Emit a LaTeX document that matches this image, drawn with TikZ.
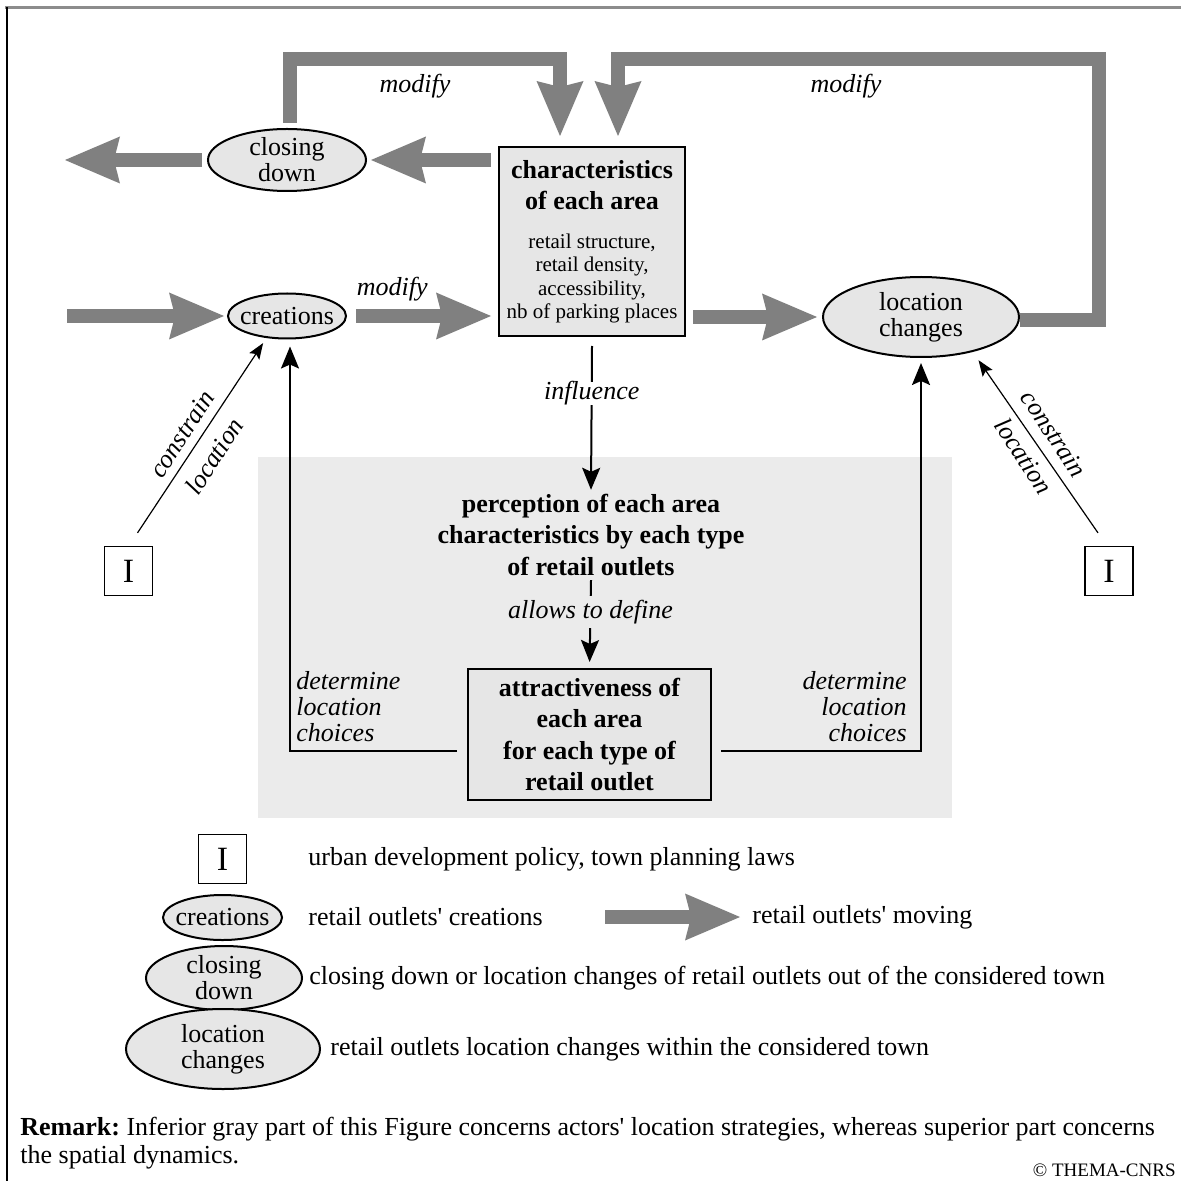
\documentclass[tikz,border=0pt]{standalone}
\usepackage{fontspec}
\setmainfont{Liberation Serif}
\usetikzlibrary{arrows.meta,shapes.geometric,calc,positioning}
\definecolor{arrowgray}{HTML}{808080}
\definecolor{fillgray}{HTML}{E6E6E6}
\definecolor{areagray}{HTML}{EBEBEB}
\definecolor{framegray}{HTML}{8C8C8C}
\frenchspacing

\begin{document}
\begin{tikzpicture}[
     x = 0.5pt,
     y = -0.5pt,
     font = \fontsize{13}{15}\selectfont,
     >= {Stealth[length=11pt,width=9pt,inset=2pt]}
    ]
    \tikzstyle{bigarrow}=[draw=arrowgray, line width=7pt, -{Stealth[length=27.5pt,width=23.5pt,inset=3pt,line width=0pt]}]
    \tikzstyle{thinarrow}=[draw, line width=1pt, ->]
    \tikzstyle{slimarrow}=[draw, line width=0.6pt, -{Stealth[length=8pt,width=6pt,inset=1.5pt]}]
    \tikzstyle{event}=[ellipse, draw, line width=1pt, fill=fillgray, inner xsep=-6pt, inner ysep=-8pt, align=center, font=\fontsize{13}{13}\selectfont]
    \tikzstyle{block}=[draw, line width=1pt, fill=fillgray, align=center, font=\bfseries\fontsize{13}{15.6}\selectfont]
    \tikzstyle{policy}=[draw, line width=0.6pt, fill=white, minimum width=24pt, minimum height=24.5pt, inner sep=0pt, font=\fontsize{17}{17}\selectfont]
    \tikzstyle{verb}=[font=\itshape\fontsize{13}{13}\selectfont, inner sep=2pt]
    \tikzstyle{keytext}=[anchor=west, inner sep=0pt]
    \newcommand{\detail}[1]{{\mdseries\fontsize{10.5}{11.5}\selectfont #1}}

    \useasboundingbox (0,0) rectangle (1181,1181);
    \draw[framegray, line width=1.5pt] (5,7.5) -- (1181,7.5);
    \draw[line width=1pt] (7,7) -- (7,1181);
    \fill[areagray] (258,457) rectangle (952,818);

    \node[block, minimum width=93pt, minimum height=94.5pt, inner sep=1pt] (char) at (592,241.5)
      {characteristics\\of each area\\[4pt]\detail{retail structure,}\\[-4pt]\detail{retail density,}\\[-4pt]\detail{accessibility,}\\[-4pt]\detail{nb of parking places}};
    \node[event, minimum width=79pt, minimum height=31pt] (closing) at (287,160) {closing\\down};
    \node[event, minimum width=59pt, minimum height=22.5pt] (cre) at (287,316) {creations};
    \node[event, minimum width=98pt, minimum height=40pt] (loc) at (921,317) {location\\changes};
    \node[align=center, font=\bfseries\fontsize{13}{15.75}\selectfont, inner sep=2pt] (percep) at (591,535)
      {perception of each area\\characteristics by each type\\of retail outlets};
    \node[block, minimum width=121.5pt, minimum height=65.5pt] (attr) at (589.5,734.5)
      {attractiveness of\\each area\\for each type of\\retail outlet};
    \node[policy] (Ileft) at (128.5,571) {I};
    \node[policy] (Iright) at (1109,571) {I};

    \coordinate (inL) at (67,316);
    \coordinate (outL) at (65,160);
    \draw[bigarrow, shorten >=1.5pt] (inL) -- (cre.west);
    \draw[bigarrow, shorten <=4.5pt, shorten >=3.5pt] (cre.east) -- node[verb, pos=.3, above=2pt] (modC) {modify} (cre.east -| char.west);
    \draw[bigarrow, shorten <=3.5pt, shorten >=2.5pt] (char.east |- loc.west) -- (loc.west);
    \draw[bigarrow, shorten <=3.5pt, shorten >=2pt] (char.west |- closing.east) -- (closing.east);
    \draw[bigarrow, shorten <=2.5pt] (closing.west) -- (outL);
    \draw[bigarrow, shorten <=2.5pt, shorten >=5pt] ($(closing.north)+(3,0)$) |- ($(char.north)+(-32,-87)$) -- ($(char.north)+(-32,0)$);
    \draw[bigarrow, shorten >=5pt] ($(loc.east)+(0,3)$) -- ++(79,0) |- ($(char.north)+(26,-87)$) -- ($(char.north)+(26,0)$);
    \node[verb] (modA) at (415,86) {modify};
    \node[verb] (modB) at (846,86) {modify};

    \draw[thinarrow] ($(char.south)+(0,9)$) -- node[verb, pos=.33, fill=white, inner ysep=0pt] (infl) {influence} (percep.north);
    \draw[thinarrow, shorten >=3pt] (percep.south) -- node[verb, pos=.36, fill=areagray] (allow) {allows to define} (attr.north);

    \draw[thinarrow, shorten >=3.5pt] ($(attr.west)+(-10,16.5)$) -| ($(cre.south)+(3,0)$);
    \node[verb, anchor=west, align=left] (detL) at (292,707) {determine\\location\\choices};
    \draw[thinarrow, shorten >=2.5pt] ($(attr.east)+(9,16.5)$) -| (loc.south);
    \node[verb, anchor=east, align=right] (detR) at (911,707) {determine\\location\\choices};

    \draw[slimarrow, shorten >=3pt] ($(Ileft.north)+(9,-13)$) -- (cre.227);
    \draw[slimarrow, shorten >=5pt] ($(Iright.north)+(-11,-13)$) -- (loc.326);
    \node[verb, rotate=56.8] (conL) at (182,434) {constrain};
    \node[verb, rotate=56.8] (locL) at (214,456) {location};
    \node[verb, rotate=-56.6] (conR) at (1054,434) {constrain};
    \node[verb, rotate=-56.6] (locR) at (1024,456) {location};

    % legend
    \node[policy] (keyI) at (222.5,859) {I};
    \node[keytext] (keyItxt) at (308,859) {urban development policy, town planning laws};
    \node[event, minimum width=59.5pt, minimum height=22.5pt] (keycre) at (222.5,917.5) {creations};
    \node[keytext] (keycretxt) at (308,917) {retail outlets\textquotesingle{} creations};
    \coordinate (keytail) at (605,917);
    \node[keytext] (keymove) at (752,917) {retail outlets\textquotesingle{} moving};
    \draw[bigarrow, shorten >=6pt] (keytail) -- (keymove.west);
    \node[event, minimum width=78pt, minimum height=32pt] (keyclos) at (224,978) {closing\\down};
    \node[keytext] (keyclostxt) at (309,978) {closing down or location changes of retail outlets out of the considered town};
    \node[event, minimum width=97pt, minimum height=40pt] (keyloc) at (223,1049) {location\\changes};
    \node[keytext] (keyloctxt) at (330,1049) {retail outlets location changes within the considered town};

    \node[anchor=north west, align=left, inner sep=0pt, font=\fontsize{13}{14}\selectfont] (remark) at (20,1117)
      {\textbf{Remark:} Inferior gray part of this Figure concerns actors\textquotesingle{} location strategies, whereas superior part concerns\\the spatial dynamics.};
    \node[anchor=east, inner sep=0pt, font=\fontsize{9.5}{10}\selectfont] (copy) at (1176,1170) {\textcopyright{} THEMA-CNRS};
   \end{tikzpicture}
\end{document}
